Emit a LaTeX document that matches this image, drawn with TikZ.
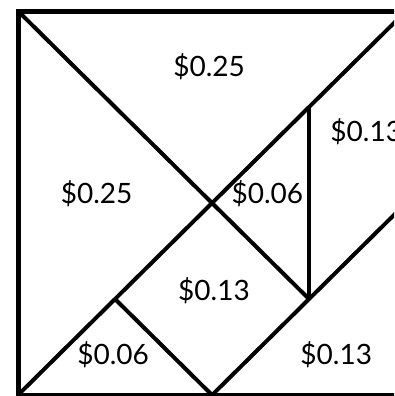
\documentclass[tikz,border=0pt]{standalone}
\usepackage{fontspec}
\setmainfont{Lato}
\begin{document}
\begin{tikzpicture}[x=97pt, y=96pt, line width=4pt,
    price/.style={font=\fontsize{28}{32}\selectfont, inner sep=0pt}]
    \useasboundingbox (-0.186,-0.01) rectangle (3.876,4.115);
    \clip (-0.186,-0.01) rectangle (3.876,4.115);
    \coordinate (bl) at (0,0);
    \coordinate (tl) at (0,4);
    \coordinate (tr) at (4,4);
    \coordinate (br) at (4,0);
    \coordinate (c) at (2,2);
    \coordinate (p) at (3,3);
    \coordinate (q) at (3,1);
    \coordinate (r) at (1,1);
    \coordinate (s) at (2,0);
    \coordinate (t) at (4,2);

    % outline and cuts
    \draw[line width=5pt] (bl) rectangle (tr);
    \draw (bl) -- (tr);
    \draw (tl) -- (c) -- (q);
    \draw (p) -- (q);
    \draw (r) -- (s) -- (t);

    % prices
    \node[price] (big1) at (1.97,3.42) {\$0.25};
    \node[price] (big2) at (0.81,2.10) {\$0.25};
    \node[price] (small1) at (2.57,2.10) {\$0.06};
    \node[price] (para) at (3.59,2.74) {\$0.13};
    \node[price] (sq) at (2.02,1.09) {\$0.13};
    \node[price] (small2) at (0.98,0.42) {\$0.06};
    \node[price] (mid) at (3.28,0.42) {\$0.13};
\end{tikzpicture}
\end{document}
